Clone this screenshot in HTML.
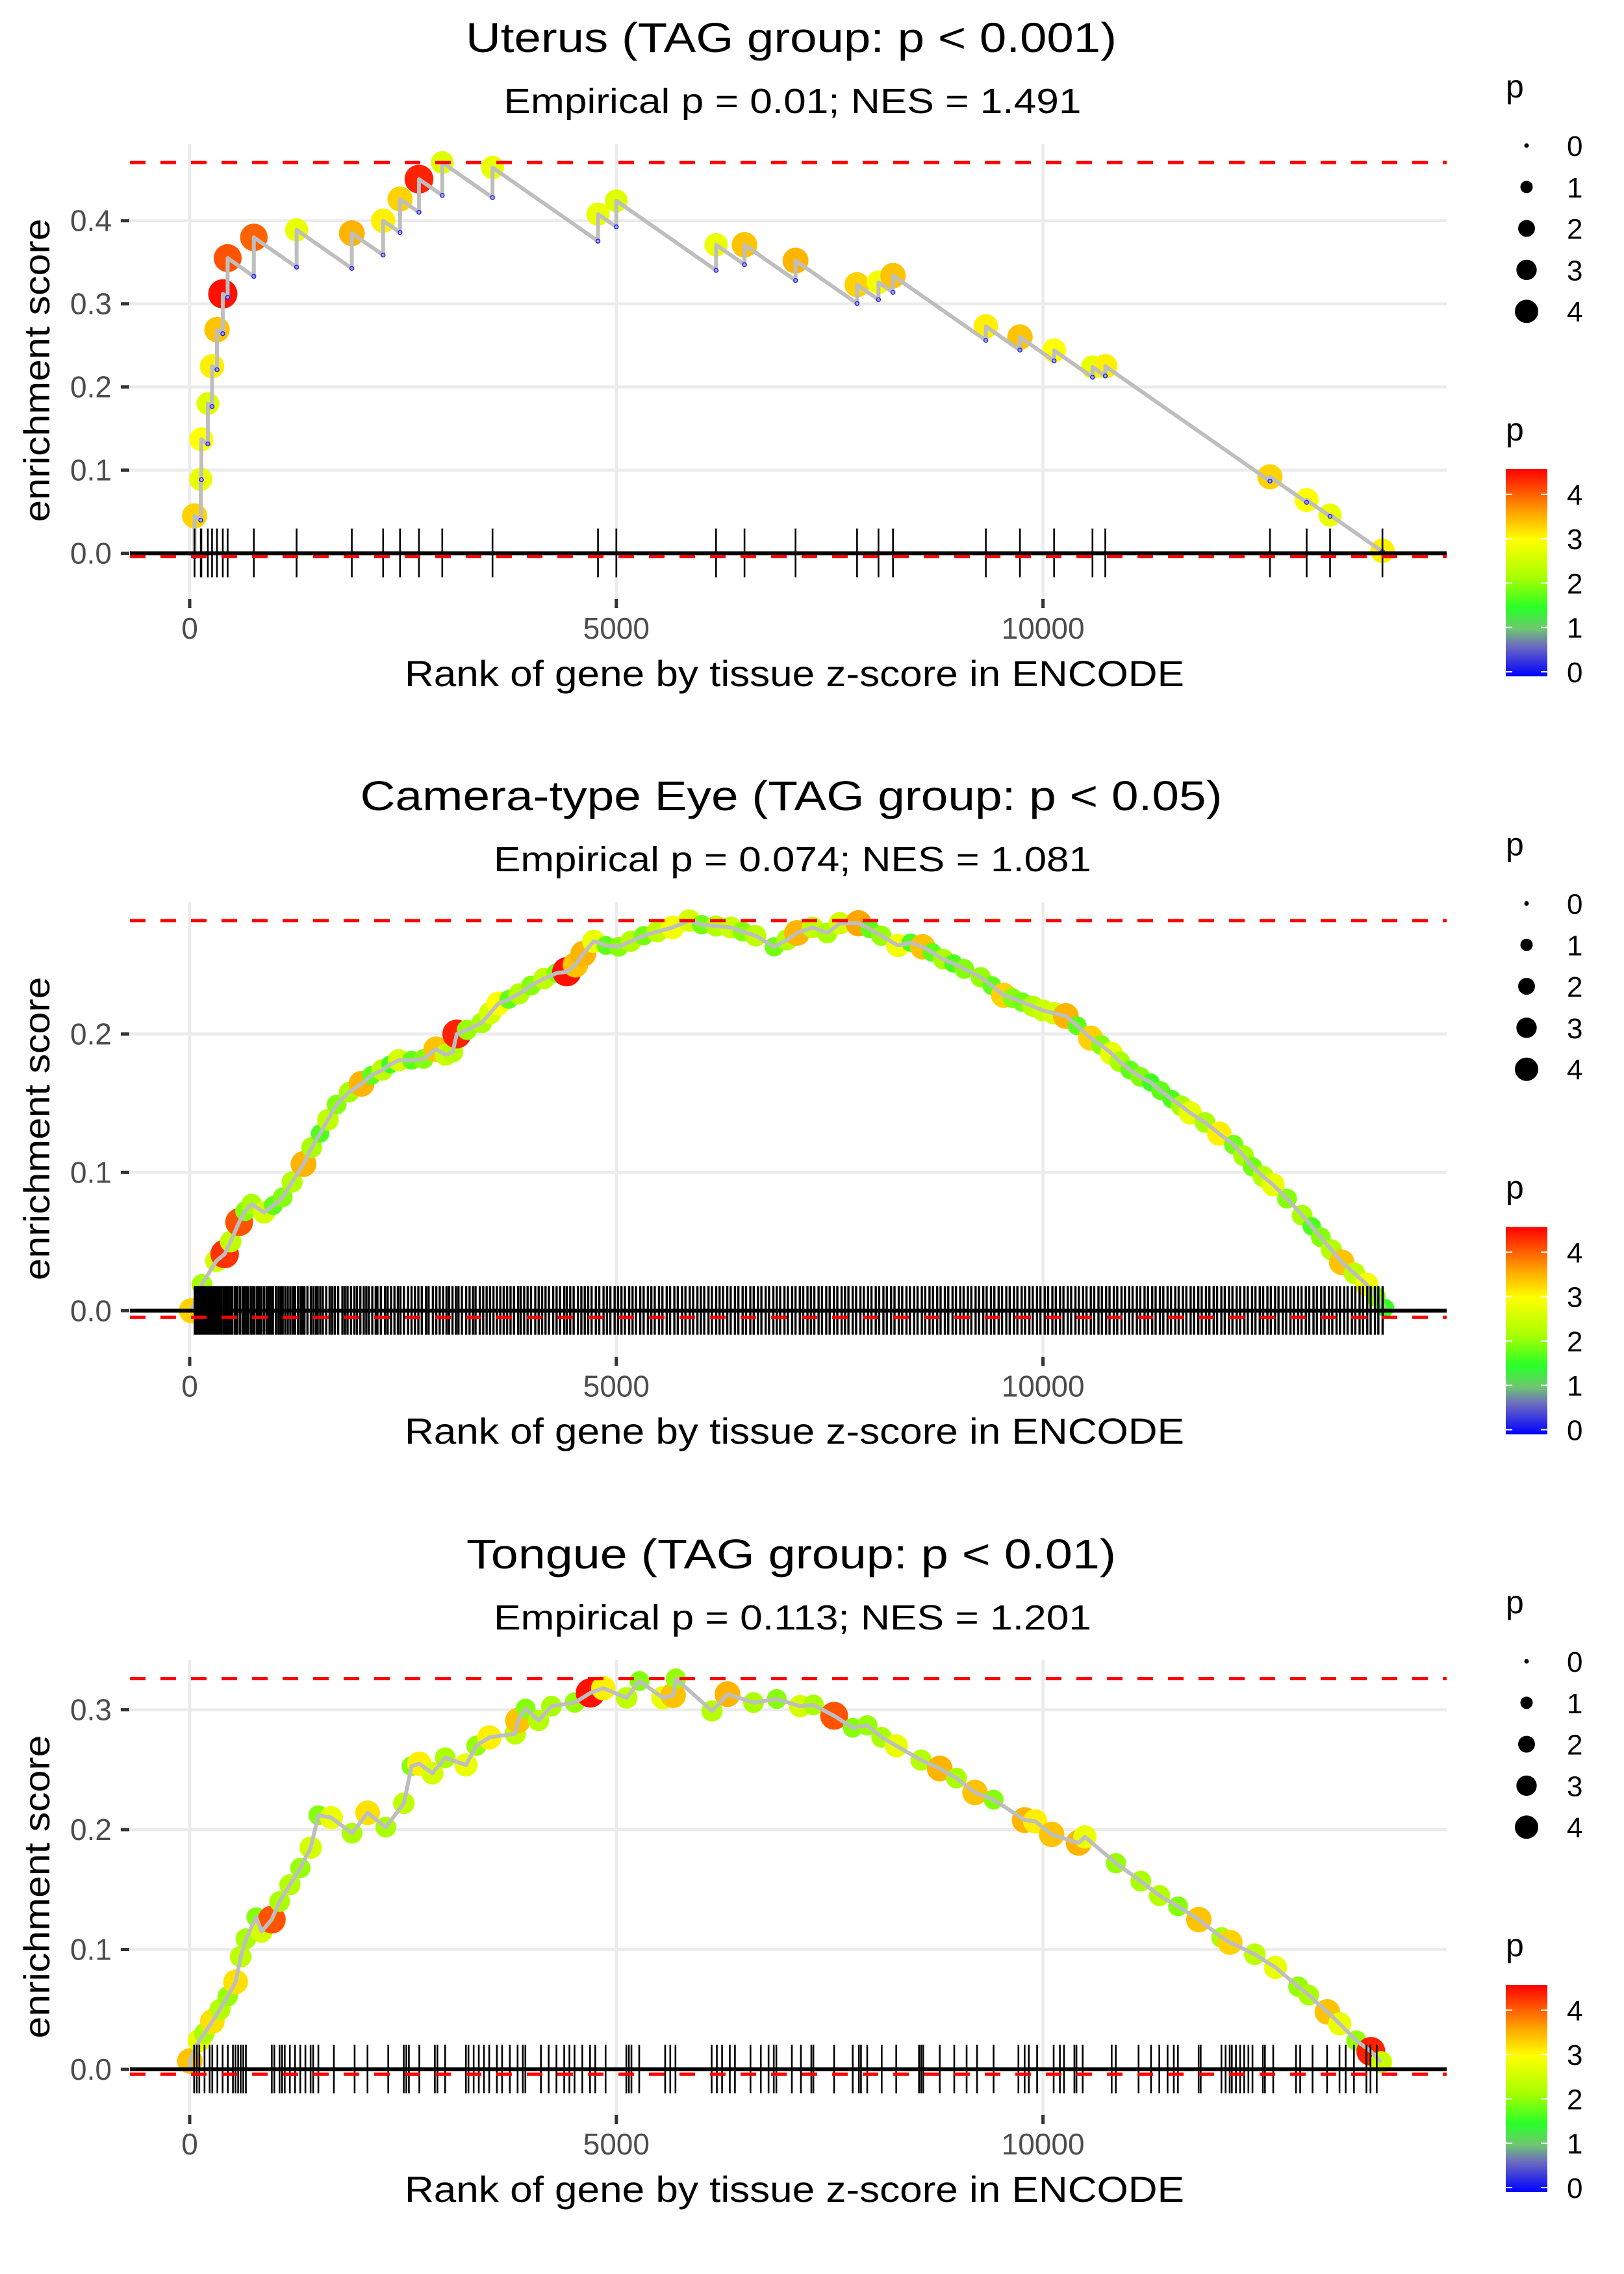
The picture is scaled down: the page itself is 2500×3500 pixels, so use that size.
<!DOCTYPE html>
<html>
<head>
<meta charset="utf-8">
<style>
html,body{margin:0;padding:0;background:#fff;}
svg{display:block;font-family:"Liberation Sans",Arial,sans-serif;}
</style>
</head>
<body>
<svg id="chart" width="2500" height="3500" viewBox="0 0 2500 3500" xmlns="http://www.w3.org/2000/svg">
<defs>
<linearGradient id="pgrad" x1="0" y1="1" x2="0" y2="0">
<stop offset="0" stop-color="#0000ff"/>
<stop offset="0.15" stop-color="#6e6ebe"/>
<stop offset="0.23" stop-color="#6ec86e"/>
<stop offset="0.33" stop-color="#28ff28"/>
<stop offset="0.48" stop-color="#aaff00"/>
<stop offset="0.66" stop-color="#ffff00"/>
<stop offset="0.79" stop-color="#ffa500"/>
<stop offset="1" stop-color="#ff0000"/>
</linearGradient>
</defs>
<rect x="0" y="0" width="2500" height="3500" fill="#fff"/>

<text x="1218" y="80" font-size="64" text-anchor="middle" textLength="1002" lengthAdjust="spacingAndGlyphs">Uterus (TAG group: p &lt; 0.001)</text>
<text x="1220" y="174" font-size="54" text-anchor="middle" textLength="889" lengthAdjust="spacingAndGlyphs">Empirical p = 0.01; NES = 1.491</text>
<text x="1223" y="1056" font-size="56" text-anchor="middle" textLength="1200" lengthAdjust="spacingAndGlyphs">Rank of gene by tissue z-score in ENCODE</text>
<text transform="translate(76,570) rotate(-90)" font-size="56" text-anchor="middle" textLength="467" lengthAdjust="spacingAndGlyphs">enrichment score</text>

<text x="1218" y="1247" font-size="64" text-anchor="middle" textLength="1327" lengthAdjust="spacingAndGlyphs">Camera-type Eye (TAG group: p &lt; 0.05)</text>
<text x="1220" y="1341" font-size="54" text-anchor="middle" textLength="920" lengthAdjust="spacingAndGlyphs">Empirical p = 0.074; NES = 1.081</text>
<text x="1223" y="2222" font-size="56" text-anchor="middle" textLength="1200" lengthAdjust="spacingAndGlyphs">Rank of gene by tissue z-score in ENCODE</text>
<text transform="translate(76,1737) rotate(-90)" font-size="56" text-anchor="middle" textLength="467" lengthAdjust="spacingAndGlyphs">enrichment score</text>

<text x="1218" y="2414" font-size="64" text-anchor="middle" textLength="1000" lengthAdjust="spacingAndGlyphs">Tongue (TAG group: p &lt; 0.01)</text>
<text x="1220" y="2508" font-size="54" text-anchor="middle" textLength="920" lengthAdjust="spacingAndGlyphs">Empirical p = 0.113; NES = 1.201</text>
<text x="1223" y="3389" font-size="56" text-anchor="middle" textLength="1200" lengthAdjust="spacingAndGlyphs">Rank of gene by tissue z-score in ENCODE</text>
<text transform="translate(76,2904) rotate(-90)" font-size="56" text-anchor="middle" textLength="467" lengthAdjust="spacingAndGlyphs">enrichment score</text>

<g id="plots"></g>
<g id="legends"></g>
</svg>
<script>
const xTickValues = [0, 5000, 10000];
const xTickLabels = ["0", "5000", "10000"];
const uterusYTicks = [0, 0.1, 0.2, 0.3, 0.4];
const eyeYTicks = [0, 0.1, 0.2];
const tongueYTicks = [0, 0.1, 0.2, 0.3];
const yTickLabelsAll = ["0.0", "0.1", "0.2", "0.3", "0.4"];
const legendSizeValues = [0, 1, 2, 3, 4];
const legendColorValues = [4, 3, 2, 1, 0];

const uterusRanks = [57,130,137,213,262,320,388,445,752,1253,1900,2267,2465,2687,2960,3549,4785,5000,6169,6502,7100,7821,8072,8242,9330,9730,10130,10580,10730,12660,13090,13364,13978];
const uterusES = [.045,.089,.137,.180,.225,.269,.312,.355,.380,.389,.385,.400,.426,.450,.470,.464,.408,.424,.371,.371,.352,.323,.326,.334,.273,.260,.244,.224,.225,.092,.064,.046,.003];
const uterusP = [3.3,2.8,3.0,2.7,3.1,3.4,4.5,4.1,4.0,2.8,3.5,3.1,3.3,4.4,2.7,2.8,2.8,2.7,2.8,3.4,3.5,3.3,2.9,3.4,3.1,3.4,3.0,2.8,3.1,3.3,3.0,2.8,3.1];

const eyeRanks = [20,143,312,410,480,580,650,726,872,980,1090,1200,1334,1430,1528,1620,1722,1870,2014,2130,2257,2350,2450,2600,2742,2888,3000,3082,3130,3250,3422,3520,3617,3740,3860,4000,4151,4300,4419,4520,4613,4735,4880,5027,5170,5319,5480,5659,5854,6000,6170,6340,6480,6632,6850,7000,7118,7300,7472,7620,7838,7970,8105,8300,8450,8590,8700,8833,8950,9077,9271,9400,9538,9640,9757,9880,9999,10130,10267,10400,10558,10680,10801,10900,11020,11140,11263,11380,11506,11620,11725,11900,12065,12235,12350,12454,12580,12697,12860,13037,13150,13256,13380,13500,13650,13792,13900,14011];
const eyeES = [.000,.019,.036,.041,.050,.064,.072,.077,.071,.076,.082,.093,.106,.118,.128,.138,.149,.158,.164,.170,.174,.178,.181,.181,.182,.189,.185,.187,.200,.203,.208,.215,.222,.225,.229,.235,.240,.244,.245,.250,.258,.267,.264,.263,.267,.271,.274,.277,.282,.279,.278,.277,.274,.271,.263,.268,.273,.277,.273,.280,.280,.276,.271,.264,.266,.263,.259,.254,.251,.247,.241,.235,.228,.226,.223,.220,.217,.215,.213,.206,.197,.192,.186,.180,.174,.169,.165,.159,.153,.148,.143,.136,.128,.120,.112,.104,.097,.091,.081,.069,.061,.053,.044,.035,.027,.019,.010,.002];
const eyeP = [3.3,2.2,2.6,4.3,2.4,4.1,2.0,2.2,2.6,1.8,2.0,2.3,3.5,2.2,1.7,2.4,2.0,2.2,3.5,1.8,2.4,1.6,2.6,1.8,2.0,3.4,2.5,2.3,4.4,2.1,2.2,2.6,3.0,1.8,2.3,2.0,2.4,2.0,4.5,3.4,3.5,2.8,1.8,2.0,2.3,1.9,2.4,2.9,2.6,1.9,2.3,2.5,2.0,2.4,1.9,2.3,3.5,2.4,2.2,2.6,3.6,1.8,2.1,2.9,1.7,3.4,1.8,2.2,1.7,2.0,2.1,1.8,3.3,2.0,1.9,2.3,2.5,2.6,3.5,1.8,3.3,2.0,2.8,2.2,1.8,2.0,1.6,1.8,1.7,2.2,2.8,2.2,3.1,1.9,2.2,1.9,2.3,2.8,2.0,2.2,1.7,2.0,2.3,3.4,2.4,2.9,2.0,1.6];
const eyeRug = [60,75,90,110,125,140,160,175,190,215,230,250,265,290,310,330,345,370,395,420,440,455,480,500,530,545,560,590,620,640,665,690,720,745,760,790,815,840,870,900,925,950,975,1010,1040,1065,1090,1120,1150,1180,1210,1235,1270,1300,1320,1345,1380,1420,1450,1480,1500,1530,1560,1600,1640,1670,1700,1740,1790,1820,1850,1890,1930,1960,2000,2040,2070,2100,2140,2180,2200,2240,2290,2320,2360,2400,2440,2470,2510,2560,2600,2640,2680,2720,2770,2800,2850,2890,2930,2970,3010,3040,3080,3120,3150,3190,3240,3280,3320,3350,3400,3440,3480,3520,3560,3600,3640,3680,3720,3760,3800,3850,3880,3920,3960,4000,4050,4090,4130,4170,4210,4260,4300,4340,4390,4420,4460,4500,4550,4590,4630,4670,4710,4760,4800,4850,4890,4930,4980,5020,5060,5100,5150,5190,5230,5280,5320,5370,5410,5450,5500,5540,5590,5630,5680,5720,5770,5810,5860,5900,5950,5990,6030,6080,6120,6170,6210,6250,6300,6340,6390,6430,6480,6520,6570,6610,6660,6700,6750,6790,6840,6880,6920,6970,7010,7060,7100,7150,7190,7240,7280,7320,7370,7410,7460,7500,7550,7590,7640,7680,7720,7770,7810,7860,7900,7950,7990,8040,8080,8130,8170,8220,8260,8310,8350,8400,8440,8490,8530,8580,8620,8670,8710,8760,8800,8850,8890,8940,8980,9030,9070,9120,9160,9210,9250,9300,9340,9390,9430,9480,9520,9570,9610,9660,9700,9750,9790,9840,9880,9930,9970,10020,10060,10110,10150,10200,10240,10290,10330,10380,10420,10470,10510,10560,10600,10650,10690,10740,10780,10830,10870,10920,10960,11010,11050,11100,11140,11190,11230,11280,11320,11370,11410,11460,11500,11550,11590,11640,11680,11730,11770,11820,11860,11910,11950,12000,12040,12090,12130,12180,12220,12270,12310,12360,12400,12450,12490,12540,12580,12630,12670,12720,12760,12810,12850,12900,12940,12990,13030,13080,13120,13170,13210,13260,13300,13350,13390,13440,13480,13530,13570,13620,13660,13710,13750,13800,13840,13890,13930,13980];

const tongueRanks = [2,111,172,265,355,446,538,598,659,780,841,962,1054,1175,1297,1418,1508,1660,1903,2085,2298,2510,2600,2692,2844,2995,3238,3360,3512,3815,3846,3937,4089,4240,4513,4695,4847,5120,5272,5545,5666,5697,6121,6303,6607,6880,7153,7309,7552,7770,7940,8110,8280,8571,8790,8985,9203,9422,9786,9908,10102,10418,10491,10855,11146,11365,11583,11826,12094,12191,12482,12725,12992,13114,13332,13478,13672,13842,13963];
const tongueES = [.007,.024,.030,.040,.050,.061,.073,.094,.109,.127,.115,.125,.140,.154,.168,.185,.212,.210,.197,.214,.202,.222,.253,.255,.247,.260,.254,.270,.277,.280,.291,.301,.291,.303,.306,.314,.318,.310,.324,.310,.312,.326,.299,.313,.306,.309,.303,.304,.295,.285,.287,.277,.270,.258,.251,.243,.231,.225,.208,.207,.196,.189,.194,.172,.157,.145,.136,.125,.110,.106,.096,.085,.069,.062,.048,.038,.024,.015,.006];
const tongueP = [3.4,2.8,2.2,3.2,2.3,2.1,3.2,2.4,2.2,2.0,2.6,4.1,2.2,2.3,2.1,2.6,2.0,2.8,2.2,3.2,2.2,2.4,2.0,3.1,2.6,2.2,2.8,2.1,3.1,2.4,3.4,2.0,2.3,2.2,2.1,4.5,3.1,2.4,2.0,2.8,3.4,2.1,2.3,3.5,2.2,2.0,2.6,2.2,4.1,2.0,2.1,2.2,2.8,2.3,3.5,2.2,3.4,2.0,3.5,3.1,3.4,3.5,2.8,2.1,2.2,2.3,2.0,3.4,2.2,3.3,2.4,2.8,2.1,2.2,3.4,2.8,2.1,4.4,2.5];
const tongueRug = [52,83,113,174,234,265,325,386,447,507,537,568,598,628,659,962,992,1053,1083,1114,1174,1235,1296,1356,1417,1447,1508,1690,1933,2084,2327,2509,2539,2569,2691,2873,2903,2994,3237,3267,3328,3388,3449,3510,3600,3661,3752,3843,3904,3934,4116,4207,4298,4389,4450,4510,4601,4692,4753,4874,5117,5147,5177,5268,5572,5632,5693,6117,6178,6239,6330,6390,6572,6693,6784,6845,6875,7057,7163,7285,7309,7552,7770,7843,7867,7940,8110,8280,8547,8571,8596,8790,8960,9105,9227,9421,9712,9785,9834,9931,10125,10198,10246,10368,10392,10465,10805,10853,11120,11266,11363,11460,11533,11581,11824,11848,12091,12140,12188,12213,12261,12310,12358,12407,12455,12577,12601,12698,12965,13014,13159,13329,13475,13547,13644,13790,13838,13911];

const nGenes = 14000;

const NS = "http://www.w3.org/2000/svg";
function mk(tag, attrs, parent) {
  const e = document.createElementNS(NS, tag);
  for (const k in attrs) e.setAttribute(k, attrs[k]);
  parent.appendChild(e);
  return e;
}
const colorStops = [[0,[0,0,255]],[0.6,[110,110,190]],[1.0,[110,200,110]],[1.5,[40,255,40]],[2.2,[170,255,0]],[3.0,[255,255,0]],[3.6,[255,165,0]],[4.6,[255,0,0]]];
function colorFor(p) {
  if (p <= colorStops[0][0]) return "rgb(0,0,255)";
  for (let i = 1; i < colorStops.length; i++) {
    if (p <= colorStops[i][0]) {
      const a = colorStops[i-1], b = colorStops[i];
      const t = (p - a[0]) / (b[0] - a[0]);
      const c = a[1].map((v, j) => Math.round(v + (b[1][j] - v) * t));
      return "rgb(" + c.join(",") + ")";
    }
  }
  return "rgb(255,0,0)";
}
function radiusFor(p) { return Math.sqrt(12 + 78 * Math.max(p, 0)); }
function xScale(r) { return 292 + r * 0.13136; }

const plots = document.getElementById("plots");
const PLOT_L = 200, PLOT_R = 2227, PLOT_H = 714;

function drawPanel(cfg) {
  const g = mk("g", {}, plots);
  
  
  const ys = es => cfg.top + (cfg.esMax - es) / (cfg.esMax - cfg.esMin) * PLOT_H;
  const bottom = cfg.top + PLOT_H;

  cfg.yTicks.forEach((v, i) => {
    const gl = mk("line", {x1: PLOT_L, x2: PLOT_R, y1: ys(v), y2: ys(v), stroke: "#ebebeb", "stroke-width": 4.5}, g);
    
    
    const tk = mk("line", {x1: 186, x2: 199, y1: ys(v), y2: ys(v), stroke: "#333", "stroke-width": 5}, g);
    
    
    const lb = mk("text", {x: 172, y: ys(v) + 16, "font-size": 46, fill: "#4d4d4d", "text-anchor": "end"}, g);
    
    
    lb.textContent = yTickLabelsAll[Math.round(v * 10)];
  });
  xTickValues.forEach((v, i) => {
    const gl = mk("line", {x1: xScale(v), x2: xScale(v), y1: cfg.top, y2: bottom, stroke: "#ebebeb", "stroke-width": 4.5}, g);
    
    
    const tk = mk("line", {x1: xScale(v), x2: xScale(v), y1: bottom - 14, y2: bottom, stroke: "#333", "stroke-width": 5}, g);
    
    
    const lb = mk("text", {x: xScale(v), y: bottom + 47, "font-size": 46, fill: "#4d4d4d", "text-anchor": "middle"}, g);
    
    
    lb.textContent = xTickLabels[i];
  });

  cfg.ranks.forEach((r, i) => {
    const c = mk("circle", {cx: xScale(r), cy: ys(cfg.es[i]), r: 1.18 * radiusFor(cfg.p[i]), fill: colorFor(cfg.p[i])}, g);
    
    
  });

  let d = "M" + xScale(0) + "," + ys(0);
  let prevR = 0, prevE = 0;
  const bottoms = [];
  const slope = 1 / (nGenes - cfg.ranks.length);
  cfg.ranks.forEach((r, i) => {
    if (cfg.sawtooth) {
      const low = prevE - slope * (r - prevR);
      d += " L" + xScale(r) + "," + ys(low);
      bottoms.push([r, low]);
    }
    d += " L" + xScale(r) + "," + ys(cfg.es[i]);
    prevR = r; prevE = cfg.es[i];
  });
  const path = mk("path", {d: d, fill: "none", stroke: "#bebebe", "stroke-width": 6, "stroke-linejoin": "round"}, g);
  
  
  bottoms.forEach(b => {
    const s = mk("circle", {cx: xScale(b[0]), cy: ys(b[1]), r: 3, fill: "#aab", stroke: "#2222ff", "stroke-width": 1.5}, g);
    
    
  });

  cfg.rug.forEach(r => {
    const t = mk("line", {x1: xScale(r), x2: xScale(r), y1: ys(0) - 38, y2: ys(0) + 37, stroke: "#000", "stroke-width": cfg.rugWidth}, g);
    
    
  });
  const base = mk("line", {x1: PLOT_L, x2: PLOT_R, y1: ys(0), y2: ys(0), stroke: "#000", "stroke-width": 6}, g);
  
  

  const maxES = Math.max.apply(null, cfg.es);
  const top = mk("line", {x1: PLOT_L, x2: PLOT_R, y1: ys(maxES), y2: ys(maxES), stroke: "#ff0000", "stroke-width": 5, "stroke-dasharray": "24 23"}, g);
  
  
  const bot = mk("line", {x1: PLOT_L, x2: PLOT_R, y1: ys(cfg.minES), y2: ys(cfg.minES), stroke: "#ff0000", "stroke-width": 5, "stroke-dasharray": "24 23"}, g);
  
  
}

drawPanel({name: "uterus", top: 222, esMax: 0.492, esMin: -0.066, yTicks: uterusYTicks, ranks: uterusRanks, es: uterusES, p: uterusP, rug: uterusRanks, sawtooth: true, minES: -0.004, rugWidth: 2.6});
drawPanel({name: "eye", top: 1388.5, esMax: 0.2953, esMin: -0.040, yTicks: eyeYTicks, ranks: eyeRanks, es: eyeES, p: eyeP, rug: eyeRug, sawtooth: false, minES: -0.0047, rugWidth: 3.4});
drawPanel({name: "tongue", top: 2555, esMax: 0.3415, esMin: -0.0455, yTicks: tongueYTicks, ranks: tongueRanks, es: tongueES, p: tongueP, rug: tongueRug, sawtooth: false, minES: -0.004, rugWidth: 2.6});

const legends = document.getElementById("legends");
[0, 1166.5, 2333].forEach((off, k) => {
  const g = mk("g", {}, legends);
  
  
  const st = mk("text", {x: 2318, y: 150 + off, "font-size": 50}, g);
  
  
  st.textContent = "p";
  legendSizeValues.forEach((v, i) => {
    const cy = 224 + off + i * 63.8;
    const c = mk("circle", {cx: 2350, cy: cy, r: radiusFor(v), fill: "#000"}, g);
    
    
    const t = mk("text", {x: 2412, y: cy + 16, "font-size": 44}, g);
    
    
    t.textContent = String(v);
  });
  const ct = mk("text", {x: 2318, y: 678 + off, "font-size": 50}, g);
  
  
  ct.textContent = "p";
  const bar = mk("rect", {x: 2318, y: 722 + off, width: 64, height: 319, fill: "url(#pgrad)"}, g);
  
  
  legendColorValues.forEach(v => {
    const y = 1034 + off - v * 68.3;
    const t1 = mk("line", {x1: 2318, x2: 2328, y1: y, y2: y, stroke: "#fff", "stroke-width": 2}, g);
    
    
    const t2 = mk("line", {x1: 2372, x2: 2382, y1: y, y2: y, stroke: "#fff", "stroke-width": 2}, g);
    
    
    const t = mk("text", {x: 2412, y: y + 16, "font-size": 44}, g);
    
    
    t.textContent = String(v);
  });
});
</script>
</body>
</html>
